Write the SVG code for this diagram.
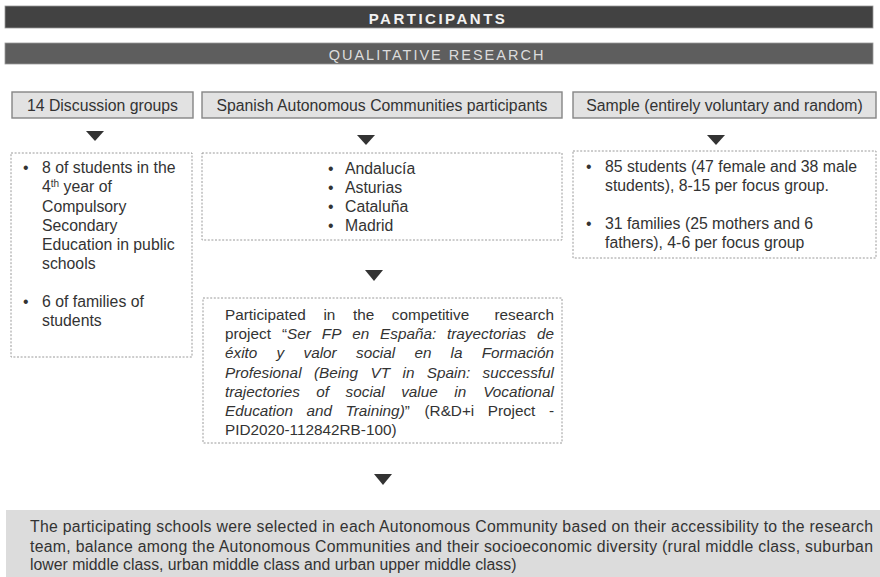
<svg xmlns="http://www.w3.org/2000/svg" width="880" height="577" viewBox="0 0 880 577">
<style>
text{font-family:"Liberation Sans",Arial,sans-serif;fill:#333;}
.t{font-size:15.8px;}
.p{font-size:15.3px;}
.hdr{fill:#e2e2e2;stroke:#858585;stroke-width:1.4;}
.dash{fill:#fff;stroke:#9a9a9a;stroke-width:1;stroke-dasharray:2 1.6;}
.tri{fill:#333;}
.i{font-style:italic;}
</style>
<rect width="880" height="577" fill="#fff"/>
<g id="title">
<rect x="5" y="6" width="868" height="22" fill="#424242" stroke="#9a9a9a" stroke-width="0.8"/>
<text x="438" y="23.5" text-anchor="middle" style="font-size:15px;font-weight:bold;fill:#f2f2f2;letter-spacing:2.5px">PARTICIPANTS</text>
</g>
<g id="subtitle">
<rect x="5" y="43" width="868" height="21" fill="#5e5e5e" stroke="#9a9a9a" stroke-width="0.8"/>
<text x="437" y="60" text-anchor="middle" style="font-size:14.5px;fill:#dcdcdc;letter-spacing:2px">QUALITATIVE RESEARCH</text>
</g>
<g id="h1">
<rect class="hdr" x="12" y="92" width="181" height="26"/>
<text class="t" x="102.5" y="111" text-anchor="middle">14 Discussion groups</text>
</g>
<g id="h2">
<rect class="hdr" x="202" y="92" width="360" height="26"/>
<text class="t" x="382" y="111" text-anchor="middle">Spanish Autonomous Communities participants</text>
</g>
<g id="h3">
<rect class="hdr" x="573" y="92" width="303" height="26"/>
<text class="t" x="724.5" y="111" text-anchor="middle">Sample (entirely voluntary and random)</text>
</g>
<g id="connectors">
<polygon class="tri" points="86,131 104,131 95,141"/>
<polygon class="tri" points="357,135 375,135 366,145"/>
<polygon class="tri" points="707,135 725,135 716,145"/>
<polygon class="tri" points="365,270 383,270 374,281"/>
<polygon class="tri" points="374,474 392,474 383,485"/>
</g>
<g id="list1">
<rect class="dash" x="11" y="153" width="181" height="204"/>
<text class="t" x="23" y="173">•</text>
<text class="t" x="42" y="173">8 of students in the</text>
<text class="t" x="42" y="192">4<tspan dy="-5" style="font-size:10px">th</tspan><tspan dy="5"> year of</tspan></text>
<text class="t" x="42" y="212">Compulsory</text>
<text class="t" x="42" y="231">Secondary</text>
<text class="t" x="42" y="250">Education in public</text>
<text class="t" x="42" y="269">schools</text>
<text class="t" x="23" y="307">•</text>
<text class="t" x="42" y="307">6 of families of</text>
<text class="t" x="42" y="326">students</text>
</g>
<g id="list2">
<rect class="dash" x="202" y="153" width="360" height="87"/>
<text class="t" x="328" y="174">•</text>
<text class="t" x="345" y="174">Andalucía</text>
<text class="t" x="328" y="193">•</text>
<text class="t" x="345" y="193">Asturias</text>
<text class="t" x="328" y="212">•</text>
<text class="t" x="345" y="212">Cataluña</text>
<text class="t" x="328" y="231">•</text>
<text class="t" x="345" y="231">Madrid</text>
</g>
<g id="list3">
<rect class="dash" x="573" y="151" width="303" height="107"/>
<text class="t" x="586" y="172">•</text>
<text class="t" x="605" y="172">85 students (47 female and 38 male</text>
<text class="t" x="605" y="191">students), 8-15 per focus group.</text>
<text class="t" x="586" y="229">•</text>
<text class="t" x="605" y="229">31 families (25 mothers and 6</text>
<text class="t" x="605" y="248">fathers), 4-6 per focus group</text>
</g>
<g id="project">
<rect class="dash" x="203" y="298" width="359" height="145"/>
<text class="p" y="320"><tspan x="225">Participated</tspan><tspan x="323.4">in</tspan><tspan x="352.9">the</tspan><tspan x="391.8">competitive</tspan><tspan x="554" text-anchor="end">research</tspan></text>
<text class="p" y="339"><tspan x="225">project</tspan><tspan x="281.9">“<tspan class="i">Ser</tspan></tspan><tspan x="321.8" class="i">FP</tspan><tspan x="352.2" class="i">en</tspan><tspan x="380.1" class="i">España:</tspan><tspan x="447" class="i">trayectorias</tspan><tspan x="554" text-anchor="end" class="i">de</tspan></text>
<text class="p i" y="358"><tspan x="225">éxito</tspan><tspan x="276.6">y</tspan><tspan x="303.5">valor</tspan><tspan x="356">social</tspan><tspan x="414.4">en</tspan><tspan x="450.6">la</tspan><tspan x="554" text-anchor="end">Formación</tspan></text>
<text class="p i" y="378"><tspan x="225">Profesional</tspan><tspan x="313.9">(Being</tspan><tspan x="370.5">VT</tspan><tspan x="402.5">in</tspan><tspan x="426.8">Spain:</tspan><tspan x="554" text-anchor="end">successful</tspan></text>
<text class="p i" y="397"><tspan x="225">trajectories</tspan><tspan x="316.3">of</tspan><tspan x="345.6">social</tspan><tspan x="401.2">value</tspan><tspan x="454.3">in</tspan><tspan x="554" text-anchor="end">Vocational</tspan></text>
<text class="p" y="416"><tspan x="225" class="i">Education</tspan><tspan x="306.5" class="i">and</tspan><tspan x="345.5"><tspan class="i">Training)</tspan>”</tspan><tspan x="424.5">(R&amp;D+i</tspan><tspan x="487.7">Project</tspan><tspan x="554" text-anchor="end">-</tspan></text>
<text class="p" x="225" y="435">PID2020-112842RB-100)</text>
</g>
<g id="schools">
<rect x="6" y="510" width="874" height="67" fill="#dcdcdc"/>
<text class="t" x="30" y="532" textLength="843" lengthAdjust="spacing">The participating schools were selected in each Autonomous Community based on their accessibility to the research</text>
<text class="t" x="30" y="552" textLength="843" lengthAdjust="spacing">team, balance among the Autonomous Communities and their socioeconomic diversity (rural middle class, suburban</text>
<text class="t" x="30" y="570">lower middle class, urban middle class and urban upper middle class)</text>
</g>
</svg>
